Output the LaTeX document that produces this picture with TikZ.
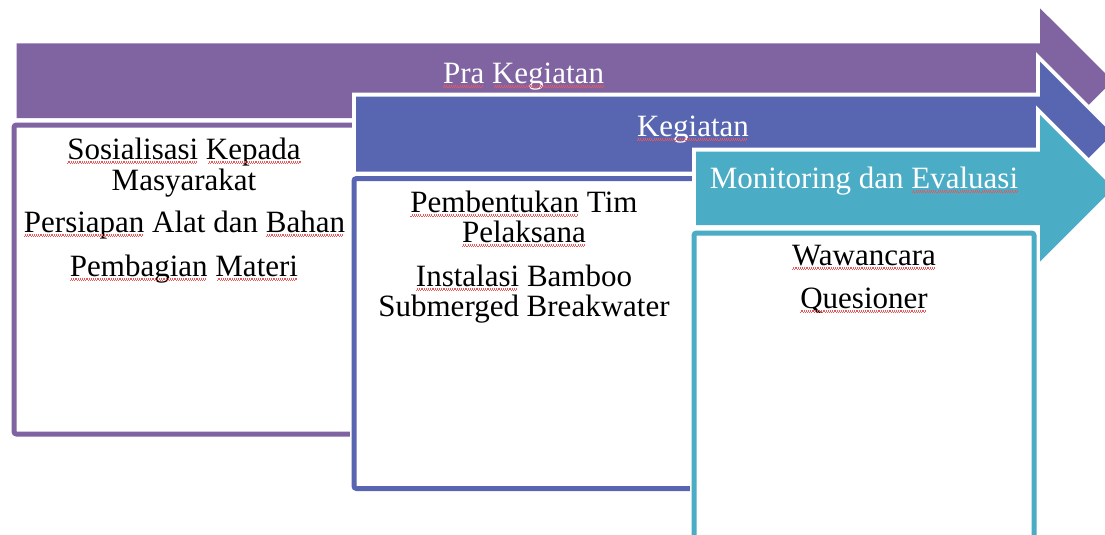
\documentclass[tikz,border=0pt]{standalone}
\usepackage{fontspec}
\setmainfont{Liberation Serif}
\definecolor{cPurple}{HTML}{8064A2}
\definecolor{cBlue}{HTML}{5866B1}
\definecolor{cTeal}{HTML}{4BACC6}
\definecolor{cWave}{HTML}{E8575A}
\newsavebox\sqbox
\newcommand\sq[1]{\sbox\sqbox{#1}\rlap{\usebox\sqbox}\textcolor{cWave}{\leaders\hbox{\rule[-4.6pt]{1.1pt}{1.1pt}\rule[-3.5pt]{1.1pt}{1.1pt}}\hskip\wd\sqbox}}
\begin{document}
\begin{tikzpicture}[x=1pt,y=-1pt,
  arrowshape/.style={preaction={draw=white,line width=8pt,line join=miter},fill=#1},
  boxshape/.style={preaction={draw=white,line width=8pt},draw=#1,line width=5pt,fill=white,rounded corners=2.5pt},
  txt/.style={font=\fontsize{31}{31}\selectfont,anchor=base,inner sep=0pt},
  wtxt/.style={txt,text=white}]
\useasboundingbox (0,0) rectangle (1105,535);
\clip (0,0) rectangle (1105,535);
\fill[white] (0,0) rectangle (1105,535);
% Pra Kegiatan
\path[arrowshape=cPurple] (16.5,43.5) -- (1040,43.5) -- (1040,8.3) -- (1112.8,80.8) -- (1040,153.3) -- (1040,118) -- (16.5,118) -- cycle;
\node[wtxt] (pra) at (523.5,83) {\sq{Pra} \sq{Kegiatan}};
\path[boxshape=cPurple] (14,125) rectangle (400,434);
\node[txt] (p1) at (184,159) {\sq{Sosialisasi} \sq{Kepada}};
\node[txt] (p2) at (184,190) {Masyarakat};
\node[txt] (p3) at (184.5,232) {\sq{Persiapan} Alat dan \sq{Bahan}};
\node[txt] (p4) at (184,276) {\sq{Pembagian} \sq{Materi}};
% Kegiatan
\path[arrowshape=cBlue] (356,96.7) -- (1040,96.7) -- (1040,61.7) -- (1112.5,134.2) -- (1040,206.7) -- (1040,171.7) -- (356,171.7) -- cycle;
\node[wtxt] (keg) at (693,136) {\sq{Kegiatan}};
\path[boxshape=cBlue] (354,178.5) rectangle (740,488.5);
\node[txt] (k1) at (524,212) {\sq{Pembentukan} Tim};
\node[txt] (k2) at (524,242) {\sq{Pelaksana}};
\node[txt] (k3) at (524,286) {\sq{Instalasi} Bamboo};
\node[txt] (k4) at (524,316) {Submerged Breakwater};
% Monitoring dan Evaluasi
\path[arrowshape=cTeal] (696,151.5) -- (1040,151.5) -- (1040,115) -- (1113.3,188.3) -- (1040,261.6) -- (1040,225) -- (696,225) -- cycle;
\node[wtxt] (mon) at (864,188) {Monitoring dan \sq{Evaluasi}};
\path[boxshape=cTeal] (694,233) rectangle (1034,560);
\node[txt] (m1) at (864,265) {\sq{Wawancara}};
\node[txt] (m2) at (864,308) {\sq{Quesioner}};
\end{tikzpicture}
\end{document}
